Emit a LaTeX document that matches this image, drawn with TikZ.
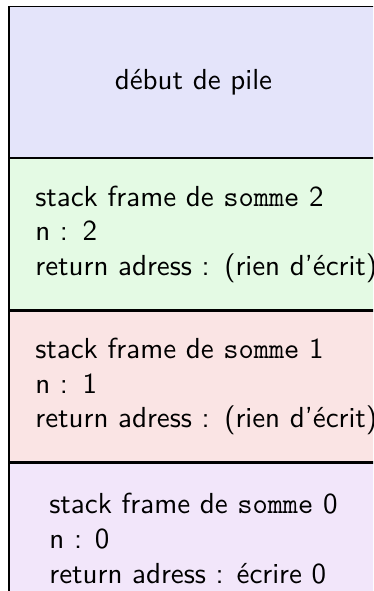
\documentclass[tikz,border=0pt]{standalone}
\usepackage{fontspec}
\definecolor{pilebleu}{RGB}{228,228,250}
\definecolor{cadrevert}{RGB}{228,250,228}
\definecolor{cadrerouge}{RGB}{250,228,228}
\definecolor{cadreviolet}{RGB}{242,230,250}
\begin{document}
\begin{tikzpicture}[font=\sffamily,
  cadre/.style={draw, anchor=north west, align=left, minimum width=127.3pt, minimum height=52.1pt},
  appel/.style={cadre, inner xsep=9.1pt, text width=125pt}]
 \useasboundingbox (0,0) rectangle (128.7pt,-203.9pt);
 \clip (0,0) rectangle (128.7pt,-203.9pt);
 \node[cadre, fill=pilebleu] (pile) at (2.9pt,-2.1pt) {début de pile};
 \node[appel, fill=cadrevert] (somme2) at (pile.south west)
   {stack frame de \texttt{somme} 2\\ n : 2\\ return adress : (rien d'écrit)};
 \node[appel, fill=cadrerouge] (somme1) at (somme2.south west)
   {stack frame de \texttt{somme} 1\\ n : 1\\ return adress : (rien d'écrit)};
 \node[cadre, fill=cadreviolet] (somme0) at (somme1.south west)
   {stack frame de \texttt{somme} 0\\ n : 0\\ return adress : écrire 0};
\end{tikzpicture}
\end{document}
